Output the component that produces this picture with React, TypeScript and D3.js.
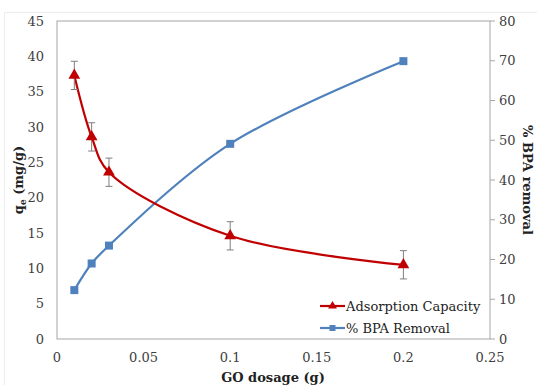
import React from "react";
import * as d3 from "d3";

const dosage = [0.01, 0.02, 0.03, 0.1, 0.2];
const capacity = [37.3, 28.6, 23.6, 14.6, 10.5];
const capacityErr = [2.0, 2.0, 2.0, 2.0, 2.0];
const removal = [12.3, 19.0, 23.5, 49.1, 69.9];

const xTicks = [0, 0.05, 0.1, 0.15, 0.2, 0.25];
const leftTicks = [0, 5, 10, 15, 20, 25, 30, 35, 40, 45];
const rightTicks = [0, 10, 20, 30, 40, 50, 60, 70, 80];

const W = 537;
const H = 385;
const m = { left: 57, right: 490, top: 21, bottom: 339 };
const RED = "#C00000";
const BLUE = "#4F81BD";
const AXIS = "#A6A6A6";
const FONT = "'DejaVu Serif', serif";

const App = () => {
  const x = d3.scaleLinear().domain([0, 0.25]).range([m.left, m.right]);
  const yL = d3.scaleLinear().domain([0, 45]).range([m.bottom, m.top]);
  const yR = d3.scaleLinear().domain([0, 80]).range([m.bottom, m.top]);

  const capPts = dosage.map((d, i) => [x(d), yL(capacity[i])] as [number, number]);
  const remPts = dosage.map((d, i) => [x(d), yR(removal[i])] as [number, number]);
  const line = d3.line().curve(d3.curveCatmullRom.alpha(0.5));
  const tri = d3.symbol(d3.symbolTriangle, 60)();
  const triSmall = d3.symbol(d3.symbolTriangle, 34)();

  return (
    <svg width={W} height={H} style={{ position: "absolute", left: 0, top: 0 }} fontFamily={FONT}>
      <rect x={0} y={0} width={W} height={H} fill="#fff" />
      {/* faint chart-area frame */}
      <rect x={4.5} y={12.5} width={W + 10} height={H} fill="none" stroke="#EDEDED" />
      <rect x={m.left} y={m.top} width={m.right - m.left} height={m.bottom - m.top} fill="none" stroke={AXIS} strokeWidth={1} />

      {leftTicks.map((t) => (
        <text key={"l" + t} x={44} y={yL(t)} dy="0.35em" textAnchor="end" fontSize={13} fill="#404040">
          {t}
        </text>
      ))}
      {rightTicks.map((t) => (
        <g key={"r" + t}>
          <line x1={m.right} x2={m.right + 5} y1={yR(t)} y2={yR(t)} stroke={AXIS} />
          <text x={499} y={yR(t)} dy="0.35em" fontSize={13} fill="#404040">
            {t}
          </text>
        </g>
      ))}
      {xTicks.map((t) => (
        <text key={"x" + t} x={x(t)} y={357} dy="0.35em" textAnchor="middle" fontSize={13} fill="#404040">
          {t}
        </text>
      ))}

      <text x={273} y={377} dy="0.35em" textAnchor="middle" fontSize={13} fontWeight="bold" fill="#222">
        GO dosage (g)
      </text>
      <text transform={`translate(18,${(m.top + m.bottom) / 2}) rotate(-90)`} textAnchor="middle" fontSize={13} fontWeight="bold" fill="#222" dy="0.35em">
        q<tspan fontSize={9} dy="3">e</tspan>
        <tspan dy="-3"> (mg/g)</tspan>
      </text>
      <text transform={`translate(528,${(m.top + m.bottom) / 2}) rotate(90)`} textAnchor="middle" fontSize={13} fontWeight="bold" fill="#222" dy="0.35em">
        % BPA removal
      </text>

      <path d={line(remPts) ?? ""} fill="none" stroke={BLUE} strokeWidth={2.2} />
      {remPts.map(([px, py], i) => (
        <rect key={"s" + i} x={px - 4} y={py - 4} width={8} height={8} fill={BLUE} />
      ))}

      <path d={line(capPts) ?? ""} fill="none" stroke={RED} strokeWidth={2.2} />
      {dosage.map((d, i) => {
        const px = x(d);
        const hi = yL(capacity[i] + capacityErr[i]);
        const lo = yL(capacity[i] - capacityErr[i]);
        return (
          <g key={"e" + i} stroke="#7F7F7F" strokeWidth={1}>
            <line x1={px} x2={px} y1={hi} y2={lo} />
            <line x1={px - 3.5} x2={px + 3.5} y1={hi} y2={hi} />
            <line x1={px - 3.5} x2={px + 3.5} y1={lo} y2={lo} />
          </g>
        );
      })}
      {capPts.map(([px, py], i) => (
        <path key={"t" + i} d={tri ?? ""} transform={`translate(${px},${py})`} fill={RED} />
      ))}

      <g>
        <line x1={320} x2={345} y1={306} y2={306} stroke={RED} strokeWidth={2.2} />
        <path d={triSmall ?? ""} transform="translate(332.5,306)" fill={RED} />
        <text x={346} y={306} dy="0.35em" fontSize={13} fill="#222">
          Adsorption Capacity
        </text>
        <line x1={320} x2={345} y1={328} y2={328} stroke={BLUE} strokeWidth={2.2} />
        <rect x={329.5} y={325} width={6} height={6} fill={BLUE} />
        <text x={346} y={328} dy="0.35em" fontSize={13} fill="#222">
          % BPA Removal
        </text>
      </g>
    </svg>
  );
};

export default App;
